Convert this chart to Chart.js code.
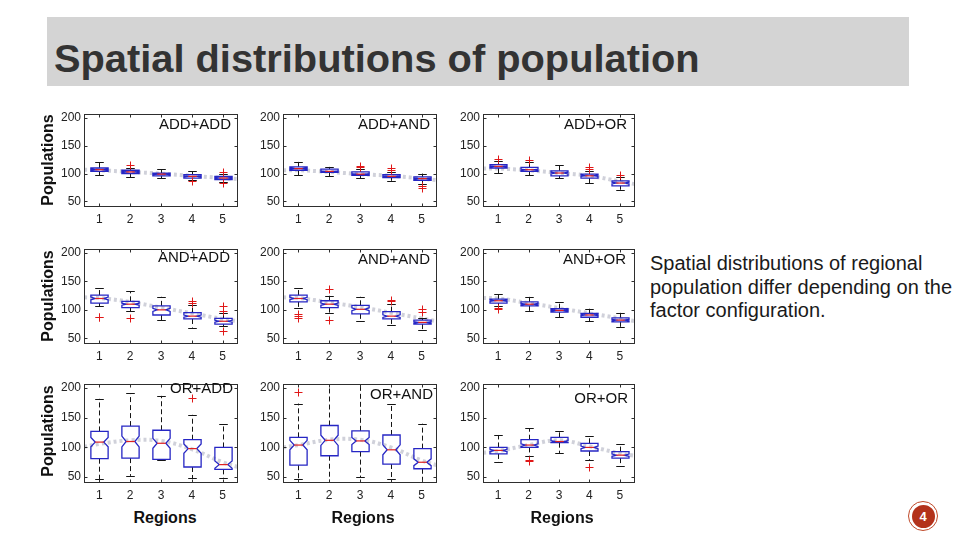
<!DOCTYPE html>
<html>
<head>
<meta charset="utf-8">
<script src="https://cdn.jsdelivr.net/npm/chart.js@4.4.1/dist/chart.umd.min.js"></script>
<style>
body{margin:0;width:960px;height:540px;background:#fff;position:relative;overflow:hidden;font-family:"Liberation Sans",Arial,sans-serif;}
.abs{position:absolute;}
#bar{left:47px;top:17px;width:862px;height:69px;background:#d4d4d4;}
#title{left:54px;top:39px;font-weight:bold;font-size:39px;line-height:39px;color:#333;white-space:nowrap;transform-origin:0 0;}
.ylab{font-weight:bold;font-size:16px;color:#111;white-space:nowrap;transform:translate(-50%,-50%) rotate(-90deg);}
.xlab{font-weight:bold;font-size:16px;color:#111;white-space:nowrap;transform:translate(-50%,-50%);}
.plab{font-size:15px;line-height:15px;color:#111;white-space:nowrap;}
#note{left:650px;top:252px;font-size:20px;line-height:23.5px;color:#1a1a1a;white-space:nowrap;}
#badge{left:908px;top:501px;width:30px;height:30px;border-radius:50%;border:1px solid #c04a2a;box-sizing:border-box;background:#fff;}
#badge div{position:absolute;left:2.5px;top:2.5px;width:23px;height:23px;border-radius:50%;background:#b3321b;color:#fff;font-weight:bold;font-size:13px;line-height:23px;text-align:center;}
canvas{position:absolute;}
</style>
</head>
<body>
<div id="bar" class="abs"></div>
<div id="title" class="abs">Spatial distributions of population</div>
<div id="note" class="abs">Spatial distributions of regional<br>population differ depending on the<br>factor configuration.</div>
<div id="badge" class="abs"><div>4</div></div>
<script>
// categories and axis ticks
const regions = ['1', '2', '3', '4', '5'];
const yTicks = [50, 100, 150, 200];
const panelNames = ['ADD+ADD', 'ADD+AND', 'ADD+OR', 'AND+ADD', 'AND+AND', 'AND+OR', 'OR+ADD', 'OR+AND', 'OR+OR'];
// x positions of the grey trend line
const trendX = [0.5, 1, 2, 3, 4, 5, 5.5];

// box stats per region: [lower whisker, q1, median, q3, upper whisker]
const addAddStats = [[97, 104, 107, 110, 120], [93, 100, 103, 106, 110], [92, 96, 99, 101, 108], [88, 92, 95, 98, 104], [84, 89, 92, 95, 100]];
const addAddOut = [[], [116], [], [87], [103, 83]];
const addAddTrend = [107, 106, 103, 100, 96, 92, 90];

const addAndStats = [[97, 106, 109, 112, 121], [95, 102, 104, 108, 112], [92, 97, 99, 103, 108], [87, 93, 95, 98, 102], [81, 88, 91, 94, 100]];
const addAndOut = [[], [], [111, 114], [106, 110], [77, 74]];
const addAndTrend = [106, 106, 103, 99, 96, 91, 88];

const addOrStats = [[101, 110, 113, 116, 122], [97, 104, 107, 111, 120], [92, 96, 101, 105, 116], [83, 92, 96, 99, 104], [71, 78, 83, 87, 93]];
const addOrOut = [[126], [124], [], [108, 111], [97]];
const addOrTrend = [109, 109, 106, 101, 96, 86, 81];

const andAddStats = [[106, 112, 120, 126, 138], [98, 104, 110, 115, 133], [82, 91, 100, 107, 123], [69, 84, 89, 95, 108], [71, 75, 80, 85, 95]];
const andAddOut = [[88, 87], [85], [], [112, 116], [98, 106, 63]];
const andAddTrend = [122, 121, 114, 104, 94, 84, 80];

const andAndStats = [[103, 114, 120, 126, 138], [94, 104, 110, 116, 125], [80, 93, 101, 108, 123], [73, 84, 89, 97, 110], [65, 75, 78, 82, 86]];
const andAndOut = [[92, 90, 85], [137, 83], [], [118, 115], [96, 101]];
const andAndTrend = [122, 121, 113, 105, 95, 85, 80];

const andOrStats = [[106, 112, 116, 119, 128], [98, 107, 110, 114, 123], [87, 96, 99, 102, 113], [80, 87, 91, 94, 102], [70, 79, 82, 86, 95]];
const andOrOut = [[102, 103], [], [], [], []];
const andOrTrend = [121, 120, 112, 103, 94, 85, 80];

const orAddStats = [[46, 81, 109, 127, 182], [52, 82, 110, 136, 191], [79, 80, 107, 129, 187], [48, 67, 98, 113, 155], [49, 63, 71, 100, 139]];
const orAddOut = [[], [], [], [184], []];
const orAddTrend = [101, 106, 112, 111, 97, 75, 67];

const orAndStats = [[46, 70, 104, 117, 174], [38, 86, 112, 137, 215], [50, 93, 111, 128, 212], [47, 72, 96, 121, 174], [42, 64, 75, 98, 140]];
const orAndOut = [[193], [], [], [], []];
const orAndTrend = [100, 104, 113, 113, 100, 78, 70];

const orOrStats = [[75, 89, 95, 100, 121], [86, 100, 104, 113, 132], [90, 108, 110, 117, 127], [79, 94, 100, 107, 120], [69, 82, 87, 93, 106]];
const orOrOut = [[], [79, 77], [], [67], []];
const orOrTrend = [91, 94, 104, 112, 102, 90, 86];

const panels = [
   [addAddStats, addAddOut, addAddTrend], [addAndStats, addAndOut, addAndTrend], [addOrStats, addOrOut, addOrTrend],
   [andAddStats, andAddOut, andAddTrend], [andAndStats, andAndOut, andAndTrend], [andOrStats, andOrOut, andOrTrend],
   [orAddStats, orAddOut, orAddTrend], [orAndStats, orAndOut, orAndTrend], [orOrStats, orOrOut, orOrTrend]
];

// layout of the plot boxes on the slide
const colLeft = [84, 283, 483], colW = [154, 154, 152];
const rowTop = [114, 249, 384], rowH = [93, 95, 99];
const labelRight = [231, 430, 627, 230, 430, 626, 233, 433, 628];
const labelTop = [116, 116, 116, 249, 251, 251, 380, 386, 390];
const PAD_L = 34, PAD_T = 12, PAD_R = 8, X_H = 24;

function boxPlugin(stats, outliers) {
   return {
      id: 'boxes',
      afterDatasetsDraw(chart) {
         const {ctx, chartArea: a, scales: {x, y}} = chart;
         const unit = x.getPixelForValue(2) - x.getPixelForValue(1);
         const hw = unit * 0.28;
         ctx.save();
         ctx.beginPath();
         ctx.rect(a.left, a.top, a.right - a.left, a.bottom - a.top);
         ctx.clip();
         stats.forEach((s, i) => {
            const [lo, q1, med, q3, hi] = s;
            const cx = Math.round(x.getPixelForValue(i + 1)) + 0.5;
            const n = 0.17 * (q3 - q1);
            const py = v => y.getPixelForValue(v);
            // whiskers
            ctx.strokeStyle = '#151515';
            ctx.lineWidth = 1;
            ctx.setLineDash([5, 3]);
            ctx.beginPath();
            ctx.moveTo(cx, py(q3)); ctx.lineTo(cx, py(hi));
            ctx.moveTo(cx, py(q1)); ctx.lineTo(cx, py(lo));
            ctx.stroke();
            ctx.setLineDash([]);
            ctx.beginPath();
            [lo, hi].forEach(v => {
               const yy = Math.round(py(v)) + 0.5;
               ctx.moveTo(cx - hw / 2, yy); ctx.lineTo(cx + hw / 2, yy);
            });
            ctx.stroke();
            // notched box
            ctx.strokeStyle = '#2626c4';
            ctx.lineWidth = 1.3;
            ctx.beginPath();
            ctx.moveTo(cx - hw, py(q1)); ctx.lineTo(cx - hw, py(med - n)); ctx.lineTo(cx - hw / 2, py(med));
            ctx.lineTo(cx - hw, py(med + n)); ctx.lineTo(cx - hw, py(q3)); ctx.lineTo(cx + hw, py(q3));
            ctx.lineTo(cx + hw, py(med + n)); ctx.lineTo(cx + hw / 2, py(med)); ctx.lineTo(cx + hw, py(med - n));
            ctx.lineTo(cx + hw, py(q1)); ctx.closePath();
            ctx.stroke();
            // median
            ctx.strokeStyle = '#e02020';
            ctx.lineWidth = 1.2;
            ctx.beginPath();
            ctx.moveTo(cx - hw / 2, py(med)); ctx.lineTo(cx + hw / 2, py(med));
            ctx.stroke();
            // outliers
            ctx.lineWidth = 1;
            ctx.strokeStyle = '#e01818';
            ctx.beginPath();
            outliers[i].forEach(v => {
               const yy = Math.round(py(v)) + 0.5;
               ctx.moveTo(cx - 4, yy); ctx.lineTo(cx + 4, yy);
               ctx.moveTo(cx, yy - 4); ctx.lineTo(cx, yy + 4);
            });
            ctx.stroke();
         });
         ctx.restore();
      },
      afterDraw(chart) {
         const {ctx, chartArea: a, scales: {x, y}} = chart;
         ctx.save();
         ctx.strokeStyle = '#2e2e2e';
         ctx.lineWidth = 1;
         const l = Math.round(a.left) + 0.5, r = Math.round(a.right) - 0.5;
         const t = Math.round(a.top) + 0.5, b = Math.round(a.bottom) - 0.5;
         ctx.strokeRect(l, t, r - l, b - t);
         ctx.beginPath();
         yTicks.forEach(v => {
            const yy = Math.round(y.getPixelForValue(v)) + 0.5;
            ctx.moveTo(l, yy); ctx.lineTo(l + 3, yy);
            ctx.moveTo(r, yy); ctx.lineTo(r - 3, yy);
         });
         regions.forEach((c, i) => {
            const xx = Math.round(x.getPixelForValue(i + 1)) + 0.5;
            ctx.moveTo(xx, b); ctx.lineTo(xx, b - 3);
            ctx.moveTo(xx, t); ctx.lineTo(xx, t + 3);
         });
         ctx.stroke();
         ctx.restore();
      }
   };
}

function makePanel(k) {
   const row = Math.floor(k / 3), col = k % 3;
   const [stats, outs, trend] = panels[k];
   const cv = document.createElement('canvas');
   const w = PAD_L + colW[col] + PAD_R, h = PAD_T + rowH[row] + X_H;
   cv.width = w; cv.height = h;
   cv.style.left = (colLeft[col] - PAD_L) + 'px';
   cv.style.top = (rowTop[row] - PAD_T) + 'px';
   cv.style.width = w + 'px'; cv.style.height = h + 'px';
   document.body.appendChild(cv);

   const tickFont = {family: 'Liberation Sans', size: 12};
   new Chart(cv.getContext('2d'), {
      type: 'line',
      data: {
         datasets: [{
            data: trendX.map((v, i) => ({x: v, y: trend[i]})),
            borderColor: 'rgba(188,190,202,0.7)',
            borderWidth: 4,
            borderDash: [3, 3],
            pointRadius: 0,
            tension: 0.4,
            fill: false
         }]
      },
      options: {
         responsive: false,
         animation: false,
         devicePixelRatio: 1,
         events: [],
         layout: {padding: {top: PAD_T, right: PAD_R, left: 0, bottom: 0}},
         plugins: {legend: {display: false}, tooltip: {enabled: false}},
         scales: {
            x: {
               type: 'linear', min: 0.5, max: 5.5,
               grid: {display: false, drawTicks: false}, border: {display: false},
               afterBuildTicks: s => { s.ticks = regions.map((r, i) => ({value: i + 1})); },
               afterFit: s => { s.height = X_H; },
               ticks: {padding: 5, color: '#222', font: tickFont, maxRotation: 0, autoSkip: false,
                  callback: v => regions[v - 1]}
            },
            y: {
               min: 40, max: 207,
               grid: {display: false, drawTicks: false}, border: {display: false},
               afterBuildTicks: s => { s.ticks = yTicks.map(v => ({value: v})); },
               afterFit: s => { s.width = PAD_L; },
               ticks: {padding: 3, color: '#222', font: tickFont}
            }
         }
      },
      plugins: [boxPlugin(stats, outs)]
   });

   const lab = document.createElement('div');
   lab.className = 'abs plab';
   lab.textContent = panelNames[k];
   lab.style.right = (960 - labelRight[k]) + 'px';
   lab.style.top = labelTop[k] + 'px';
   document.body.appendChild(lab);
}

for (let k = 0; k < 9; k++) makePanel(k);

// axis titles
[160, 296, 431].forEach(cy => {
   const d = document.createElement('div');
   d.className = 'abs ylab';
   d.textContent = 'Populations';
   d.style.left = '48px'; d.style.top = cy + 'px';
   document.body.appendChild(d);
});
[165, 363, 562].forEach(cx => {
   const d = document.createElement('div');
   d.className = 'abs xlab';
   d.textContent = 'Regions';
   d.style.left = cx + 'px'; d.style.top = '518px';
   document.body.appendChild(d);
});

// fit the heading to the width it has on the slide
const title = document.getElementById('title');
title.style.transform = `scaleX(${646 / title.offsetWidth})`;
</script>
</body>
</html>
